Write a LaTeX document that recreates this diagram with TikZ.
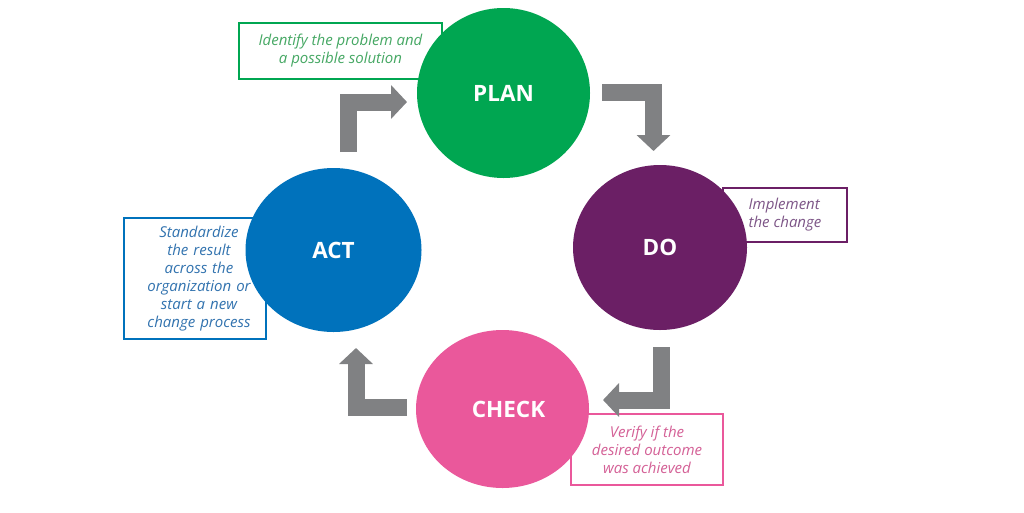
\documentclass[tikz,border=0pt]{standalone}
\usepackage{fontspec}
\setmainfont{Open Sans}
\usetikzlibrary{shapes.geometric,arrows.meta}
\definecolor{cplan}{RGB}{0,166,81}
\definecolor{cdo}{RGB}{107,31,101}
\definecolor{cact}{RGB}{0,114,188}
\definecolor{ccheck}{RGB}{234,88,155}
\definecolor{tplan}{RGB}{70,168,100}
\definecolor{tdo}{RGB}{125,85,135}
\definecolor{tact}{RGB}{50,115,175}
\definecolor{tcheck}{RGB}{212,96,150}
\definecolor{cgray}{RGB}{128,129,131}
\begin{document}
\begin{tikzpicture}[x=1pt,y=-1pt,
  blob/.style={ellipse, inner sep=0pt, text=white, font=\bfseries\fontsize{22.5}{26}\selectfont},
  note/.style={rectangle, draw=#1, line width=1.6pt, fill=white, inner sep=0pt, align=center, font=\itshape\fontsize{15}{18}\selectfont},
  bent/.style={draw=cgray, line width=17pt, miter limit=10, line join=miter, -{Triangle[width=33pt,length=16pt]}}
]
\useasboundingbox[fill=white] (0,0) rectangle (1024,512);
% notes (behind the circles)
\node[note=cplan, text=tplan, minimum width=203pt, minimum height=56pt] (nplan) at (340.5,51) {Identify the problem and\\a possible solution};
\node[note=cdo, text=tdo, minimum width=124pt, minimum height=54pt, align=left] (ndo) at (785,215) {Implement\\the change};
\node[note=cact, text=tact, minimum width=142pt, minimum height=121pt, text width=142pt, xshift=0pt] (nact) at (195,278.5) {\hspace*{8pt}Standardize\\\hspace*{8pt}the result\\\hspace*{8pt}across the\\\hspace*{8pt}organization or\\\hspace*{8pt}start a new\\\hspace*{8pt}change process};
\node[note=ccheck, text=tcheck, minimum width=152pt, minimum height=71pt] (ncheck) at (647,449.5) {Verify if the\\desired outcome\\was achieved};
% circles
\node[blob, fill=cplan, minimum width=173pt, minimum height=170pt] (plan) at (503.5,93) {PLAN};
\node[blob, fill=cdo, minimum width=174pt, minimum height=165pt] (do) at (660,247.5) {DO};
\node[blob, fill=cact, minimum width=176pt, minimum height=164pt] (act) at (333.5,250) {ACT};
\node[blob, fill=ccheck, minimum width=173pt, minimum height=158pt] (check) at (502.5,409) {\hspace*{12pt}CHECK};
% bent arrows
\coordinate (a1s) at (348,152); \coordinate (a1c) at (348,102); \coordinate (a1e) at (407,102);
\coordinate (a2s) at (602,92.5); \coordinate (a2c) at (653.5,92.5); \coordinate (a2e) at (653.5,151);
\coordinate (a3s) at (661.5,347); \coordinate (a3c) at (661.5,400); \coordinate (a3e) at (603,400);
\coordinate (a4s) at (407,407); \coordinate (a4c) at (356,407); \coordinate (a4e) at (356,348);
\draw[bent] (a1s) -- (a1c) -- (a1e);
\draw[bent] (a2s) -- (a2c) -- (a2e);
\draw[bent] (a3s) -- (a3c) -- (a3e);
\draw[bent] (a4s) -- (a4c) -- (a4e);
\end{tikzpicture}
\end{document}
